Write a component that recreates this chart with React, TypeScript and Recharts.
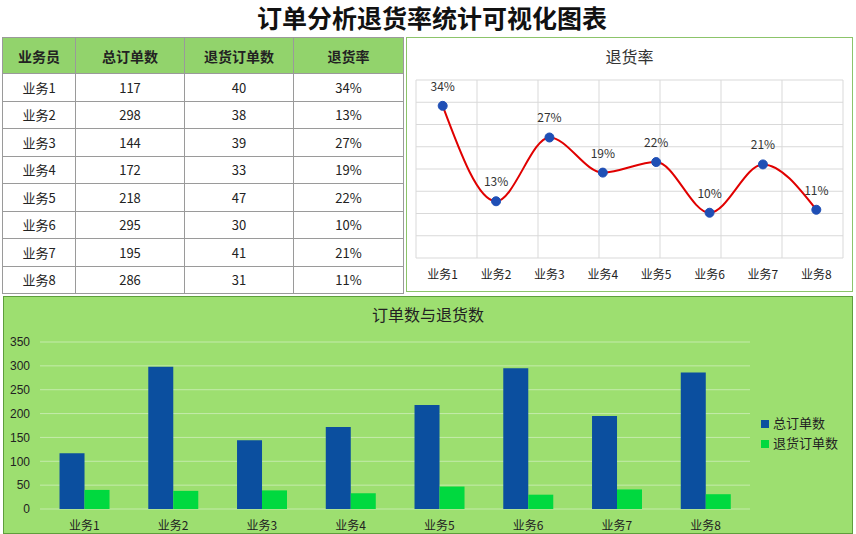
import React from "react";
import {
  LineChart,
  Line,
  BarChart,
  Bar,
  XAxis,
  YAxis,
  CartesianGrid,
  LabelList,
  Legend,
} from "recharts";

const categories = ["业务1", "业务2", "业务3", "业务4", "业务5", "业务6", "业务7", "业务8"];
const totalOrders = [117, 298, 144, 172, 218, 295, 195, 286];
const returnOrders = [40, 38, 39, 33, 47, 30, 41, 31];
const returnRates = [34.19, 12.75, 27.08, 19.19, 21.56, 10.17, 21.03, 10.84];
const rateLabels = ["34%", "13%", "27%", "19%", "22%", "10%", "21%", "11%"];
const tableHeaders = ["业务员", "总订单数", "退货订单数", "退货率"];
const rateTicks = [0, 5, 10, 15, 20, 25, 30, 35, 40];
const countTicks = [0, 50, 100, 150, 200, 250, 300, 350];
const centerTicks = [0.5, 1.5, 2.5, 3.5, 4.5, 5.5, 6.5, 7.5];
const edgeTicks = [0, 1, 2, 3, 4, 5, 6, 7, 8];

const FONT = '"Noto Sans CJK SC", "Noto Sans", sans-serif';

const lineData = categories.map((name, i) => ({
  name,
  pos: i + 0.5,
  rate: returnRates[i],
  label: rateLabels[i],
}));

const barData = categories.map((name, i) => ({
  name,
  total: totalOrders[i],
  returned: returnOrders[i],
}));

const cell: React.CSSProperties = {
  border: "1px solid #9a9a9a",
  padding: 0,
  textAlign: "center",
  fontSize: 13,
  color: "#222",
};

function DataTable() {
  return (
    <table
      style={{
        position: "absolute",
        left: 2,
        top: 37,
        width: 401,
        borderCollapse: "collapse",
        tableLayout: "fixed",
        fontFamily: FONT,
      }}
    >
      <colgroup>
        <col style={{ width: 73 }} />
        <col style={{ width: 109 }} />
        <col style={{ width: 109 }} />
        <col style={{ width: 110 }} />
      </colgroup>
      <thead>
        <tr style={{ height: 36, background: "#92d36c" }}>
          {tableHeaders.map((h) => (
            <th key={h} style={{ ...cell, fontSize: 14, fontWeight: 700 }}>
              {h}
            </th>
          ))}
        </tr>
      </thead>
      <tbody>
        {categories.map((name, i) => (
          <tr key={name} style={{ height: 27.5 }}>
            <td style={cell}>{name}</td>
            <td style={cell}>{totalOrders[i]}</td>
            <td style={cell}>{returnOrders[i]}</td>
            <td style={cell}>{rateLabels[i]}</td>
          </tr>
        ))}
      </tbody>
    </table>
  );
}

function RateChart() {
  return (
    <div
      style={{
        position: "absolute",
        left: 406,
        top: 37,
        width: 447,
        height: 255,
        boxSizing: "border-box",
        border: "1px solid #8cc46a",
        background: "#fff",
      }}
    >
      <div
        style={{
          position: "absolute",
          left: 0,
          top: 7,
          width: 445,
          textAlign: "center",
          fontSize: 16,
          color: "#333",
          lineHeight: "22px",
        }}
      >
        退货率
      </div>
      <LineChart
        width={445}
        height={253}
        data={lineData}
        margin={{ top: 42, right: 9, bottom: 5, left: 9 }}
        style={{ fontFamily: FONT }}
      >
        <XAxis xAxisId="g" type="number" domain={[0, 8]} ticks={edgeTicks} interval={0} hide allowDataOverflow />
        <XAxis
          xAxisId="c"
          type="number"
          dataKey="pos"
          domain={[0, 8]}
          ticks={centerTicks}
          interval={0}
          tickFormatter={(v) => categories[Math.floor(v)]}
          axisLine={false}
          tickLine={false}
          tickMargin={6}
          height={28}
          tick={{ fontSize: 12, fill: "#222" }}
          allowDataOverflow
        />
        <YAxis domain={[0, 40]} ticks={rateTicks} interval={0} hide />
        <CartesianGrid xAxisId="g" stroke="#d9d9d9" />
        <Line
          xAxisId="c"
          type="monotone"
          dataKey="rate"
          stroke="#e00000"
          strokeWidth={2}
          dot={{ r: 4.5, fill: "#1f4fb5", stroke: "#1f4fb5", strokeWidth: 1 }}
          isAnimationActive={false}
        >
          <LabelList dataKey="label" position="top" offset={15} fill="#333" fontSize={12} />
        </Line>
      </LineChart>
    </div>
  );
}

function OrdersChart() {
  return (
    <div
      style={{
        position: "absolute",
        left: 3,
        top: 296,
        width: 850,
        height: 238,
        boxSizing: "border-box",
        border: "1px solid #5e9e3c",
        background: "#9ddf70",
      }}
    >
      <div
        style={{
          position: "absolute",
          left: 0,
          top: 6,
          width: 848,
          textAlign: "center",
          fontSize: 16,
          color: "#222",
          lineHeight: "22px",
        }}
      >
        订单数与退货数
      </div>
      <BarChart
        width={848}
        height={236}
        data={barData}
        margin={{ top: 45, right: 102, bottom: 0, left: 0 }}
        barCategoryGap="22%"
        barGap={0}
        style={{ fontFamily: FONT }}
      >
        <CartesianGrid vertical={false} stroke="#c4ebab" />
        <XAxis
          xAxisId="b"
          type="number"
          domain={[0, 8]}
          ticks={edgeTicks}
          interval={0}
          tick={false}
          tickSize={4}
          height={0}
          axisLine={{ stroke: "#d2f0c0" }}
          tickLine={{ stroke: "#d2f0c0" }}
          allowDataOverflow
        />
        <XAxis
          dataKey="name"
          axisLine={false}
          tickLine={false}
          tickMargin={6}
          height={24}
          tick={{ fontSize: 12, fill: "#222" }}
        />
        <YAxis
          domain={[0, 350]}
          ticks={countTicks}
          interval={0}
          width={36}
          axisLine={false}
          tickLine={false}
          tickMargin={4}
          tick={{ fontSize: 12, fill: "#222", fontFamily: '"Liberation Sans", Arial, sans-serif' }}
        />
        <Legend
          layout="vertical"
          align="center"
          verticalAlign="middle"
          iconType="square"
          iconSize={8}
          wrapperStyle={{ left: 757, top: 116, width: 90, fontSize: 13, lineHeight: "20px" }}
          formatter={(v) => <span style={{ color: "#222" }}>{v}</span>}
        />
        <Bar dataKey="total" name="总订单数" fill="#0b4f9f" isAnimationActive={false} />
        <Bar dataKey="returned" name="退货订单数" fill="#00d93f" isAnimationActive={false} />
      </BarChart>
    </div>
  );
}

export default function App() {
  return (
    <div
      style={{
        position: "absolute",
        left: 0,
        top: 0,
        width: 856,
        height: 534,
        background: "#fff",
        fontFamily: FONT,
        overflow: "hidden",
      }}
    >
      <div
        style={{
          position: "absolute",
          left: 0,
          top: 2,
          width: 856,
          paddingLeft: 8,
          boxSizing: "border-box",
          textAlign: "center",
          fontSize: 25,
          fontWeight: 700,
          lineHeight: "30px",
          color: "#111",
        }}
      >
        订单分析退货率统计可视化图表
      </div>
      <DataTable />
      <RateChart />
      <OrdersChart />
    </div>
  );
}
